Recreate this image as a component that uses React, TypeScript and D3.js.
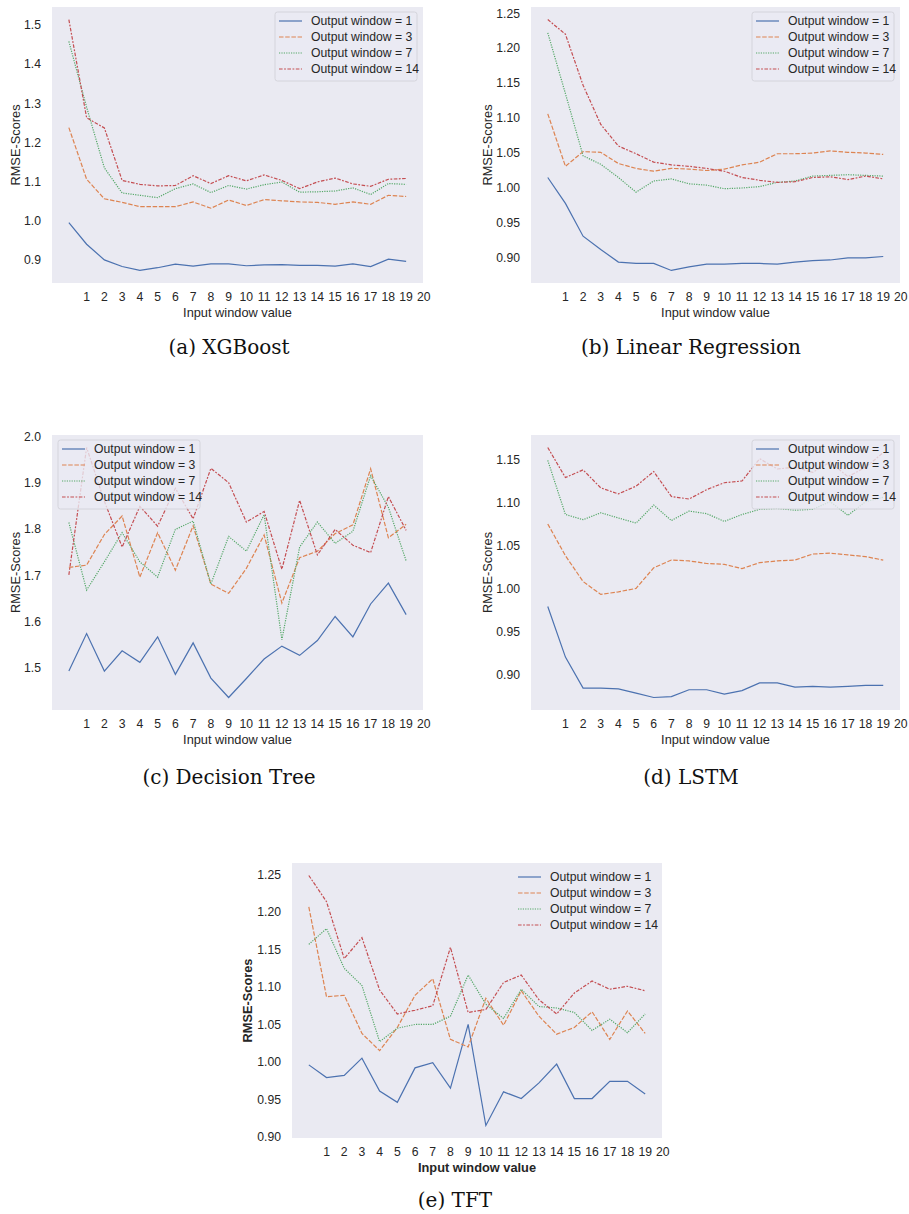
import React, { useEffect, useRef } from 'react';
import * as d3 from 'd3';

// input window index on the x axis (points) and the tick labels shown
const inputWindows = [0, 1, 2, 3, 4, 5, 6, 7, 8, 9, 10, 11, 12, 13, 14, 15, 16, 17, 18, 19];
const xTickValues = [1, 2, 3, 4, 5, 6, 7, 8, 9, 10, 11, 12, 13, 14, 15, 16, 17, 18, 19, 20];
const seriesLabels = ['Output window = 1', 'Output window = 3', 'Output window = 7', 'Output window = 14'];

// (a) XGBoost
const xgbW1 = [0.995, 0.94, 0.9, 0.883, 0.873, 0.88, 0.889, 0.884, 0.89, 0.89, 0.885, 0.887, 0.888, 0.886, 0.886, 0.884, 0.89, 0.883, 0.902, 0.896];
const xgbW3 = [1.238, 1.106, 1.056, 1.047, 1.036, 1.036, 1.036, 1.048, 1.032, 1.053, 1.039, 1.054, 1.051, 1.048, 1.047, 1.042, 1.048, 1.042, 1.065, 1.062];
const xgbW7 = [1.458, 1.29, 1.135, 1.071, 1.065, 1.059, 1.082, 1.094, 1.072, 1.09, 1.081, 1.092, 1.099, 1.073, 1.074, 1.076, 1.084, 1.067, 1.095, 1.093];
const xgbW14 = [1.514, 1.263, 1.237, 1.103, 1.093, 1.089, 1.09, 1.115, 1.095, 1.115, 1.102, 1.117, 1.103, 1.082, 1.099, 1.109, 1.094, 1.088, 1.106, 1.108];
const xgbTicks = [0.9, 1.0, 1.1, 1.2, 1.3, 1.4, 1.5];

// (b) Linear Regression
const lrW1 = [1.015, 0.978, 0.931, 0.912, 0.894, 0.892, 0.892, 0.882, 0.887, 0.891, 0.891, 0.892, 0.892, 0.891, 0.894, 0.896, 0.897, 0.9, 0.9, 0.902];
const lrW3 = [1.106, 1.031, 1.052, 1.051, 1.035, 1.028, 1.024, 1.028, 1.027, 1.025, 1.027, 1.033, 1.037, 1.049, 1.049, 1.05, 1.053, 1.051, 1.05, 1.048];
const lrW7 = [1.222, 1.135, 1.046, 1.034, 1.015, 0.994, 1.01, 1.013, 1.006, 1.004, 0.999, 1.0, 1.002, 1.008, 1.01, 1.017, 1.018, 1.019, 1.018, 1.017];
const lrW14 = [1.241, 1.22, 1.147, 1.091, 1.06, 1.049, 1.037, 1.033, 1.031, 1.028, 1.024, 1.015, 1.011, 1.008, 1.009, 1.015, 1.016, 1.012, 1.017, 1.013];
const lrTicks = [0.9, 0.95, 1.0, 1.05, 1.1, 1.15, 1.2, 1.25];

// (c) Decision Tree
const dtW1 = [1.493, 1.574, 1.493, 1.537, 1.512, 1.567, 1.486, 1.554, 1.478, 1.436, 1.477, 1.519, 1.547, 1.527, 1.559, 1.611, 1.567, 1.638, 1.683, 1.615];
const dtW3 = [1.717, 1.722, 1.788, 1.828, 1.696, 1.792, 1.711, 1.807, 1.681, 1.661, 1.715, 1.787, 1.64, 1.738, 1.752, 1.79, 1.809, 1.93, 1.781, 1.81];
const dtW7 = [1.814, 1.668, 1.729, 1.792, 1.729, 1.696, 1.799, 1.817, 1.681, 1.784, 1.752, 1.831, 1.561, 1.761, 1.815, 1.769, 1.795, 1.915, 1.847, 1.731];
const dtW14 = [1.701, 1.976, 1.86, 1.761, 1.849, 1.806, 1.888, 1.822, 1.931, 1.9, 1.815, 1.838, 1.713, 1.862, 1.744, 1.799, 1.765, 1.749, 1.87, 1.797];
const dtTicks = [1.5, 1.6, 1.7, 1.8, 1.9, 2.0];

// (d) LSTM
const lstmW1 = [0.979, 0.92, 0.884, 0.884, 0.883, 0.878, 0.873, 0.874, 0.882, 0.882, 0.877, 0.881, 0.89, 0.89, 0.885, 0.886, 0.885, 0.886, 0.887, 0.887];
const lstmW3 = [1.075, 1.038, 1.008, 0.993, 0.996, 1.0, 1.024, 1.033, 1.032, 1.029, 1.028, 1.023, 1.03, 1.032, 1.033, 1.04, 1.041, 1.039, 1.037, 1.033];
const lstmW7 = [1.149, 1.086, 1.08, 1.088, 1.082, 1.076, 1.097, 1.079, 1.09, 1.087, 1.078, 1.086, 1.092, 1.093, 1.091, 1.092, 1.101, 1.085, 1.101, 1.106];
const lstmW14 = [1.164, 1.129, 1.138, 1.117, 1.11, 1.119, 1.136, 1.107, 1.104, 1.115, 1.123, 1.125, 1.151, 1.139, 1.141, 1.135, 1.147, 1.13, 1.141, 1.158];
const lstmTicks = [0.9, 0.95, 1.0, 1.05, 1.1, 1.15];

// (e) TFT
const tftW1 = [0.996, 0.979, 0.982, 1.005, 0.961, 0.946, 0.992, 0.999, 0.965, 1.05, 0.915, 0.96, 0.951, 0.972, 0.997, 0.951, 0.951, 0.974, 0.974, 0.957];
const tftW3 = [1.207, 1.087, 1.089, 1.038, 1.015, 1.046, 1.089, 1.111, 1.03, 1.02, 1.085, 1.049, 1.095, 1.061, 1.037, 1.046, 1.067, 1.03, 1.068, 1.038];
const tftW7 = [1.157, 1.178, 1.125, 1.102, 1.027, 1.045, 1.05, 1.05, 1.061, 1.116, 1.077, 1.058, 1.097, 1.074, 1.072, 1.066, 1.042, 1.057, 1.039, 1.064];
const tftW14 = [1.249, 1.214, 1.138, 1.166, 1.096, 1.064, 1.069, 1.075, 1.153, 1.066, 1.07, 1.106, 1.116, 1.083, 1.064, 1.092, 1.108, 1.097, 1.101, 1.095];
const tftTicks = [0.9, 0.95, 1.0, 1.05, 1.1, 1.15, 1.2, 1.25];

const colors = ['#4C72B0', '#DD8452', '#55A868', '#C44E52'];
const dashes = ['none', '4.5,1.7', '1.2,1.2', '3.6,1.5,1.8,1.5'];

const SANS = "'Liberation Sans', Arial, sans-serif";
const SERIF = "'DejaVu Serif', serif";

const panels = [
  { caption: '(a) XGBoost', series: [xgbW1, xgbW3, xgbW7, xgbW14], ticks: xgbTicks, fmt: '.1f',
    x: 52, y: 7, w: 371, h: 276, legend: 'right', frame: true, bold: false, ylabDx: -36, capX: 229, capY: 354 },
  { caption: '(b) Linear Regression', series: [lrW1, lrW3, lrW7, lrW14], ticks: lrTicks, fmt: '.2f',
    x: 531, y: 7, w: 369, h: 276, legend: 'right', frame: true, bold: false, ylabDx: -43, capX: 691, capY: 354 },
  { caption: '(c) Decision Tree', series: [dtW1, dtW3, dtW7, dtW14], ticks: dtTicks, fmt: '.1f',
    x: 52, y: 435, w: 371, h: 275, legend: 'left', frame: true, bold: false, ylabDx: -36, capX: 229, capY: 784 },
  { caption: '(d) LSTM', series: [lstmW1, lstmW3, lstmW7, lstmW14], ticks: lstmTicks, fmt: '.2f',
    x: 531, y: 435, w: 369, h: 275, legend: 'right', frame: true, bold: false, ylabDx: -43, capX: 691, capY: 784 },
  { caption: '(e) TFT', series: [tftW1, tftW3, tftW7, tftW14], ticks: tftTicks, fmt: '.2f',
    x: 292, y: 863, w: 370, h: 275, legend: 'right', frame: false, bold: true, ylabDx: -44, capX: 455, capY: 1207 },
];

const App = () => {
  const svgRef = useRef(null);

  useEffect(() => {
    const svg = d3.select(svgRef.current);
    svg.selectAll('*').remove();

    panels.forEach((p) => {
      const g = svg.append('g');

      const x = d3.scaleLinear().domain([-0.95, 19.95]).range([p.x, p.x + p.w]);
      const all = p.series.flat();
      const [lo, hi] = d3.extent(all);
      const pad = (hi - lo) * 0.05;
      const y = d3.scaleLinear().domain([lo - pad, hi + pad]).range([p.y + p.h, p.y]);

      g.append('rect')
        .attr('x', p.x).attr('y', p.y)
        .attr('width', p.w).attr('height', p.h)
        .attr('fill', '#EAEAF2');

      // y tick labels
      g.selectAll('.ytick')
        .data(p.ticks)
        .join('text')
        .attr('x', p.x - 11)
        .attr('y', (d) => y(d))
        .attr('dy', '0.35em')
        .attr('text-anchor', 'end')
        .attr('font-family', SANS)
        .attr('font-size', 12.2)
        .attr('fill', '#262626')
        .text((d) => d3.format(p.fmt)(d));

      // x tick labels
      g.selectAll('.xtick')
        .data(xTickValues)
        .join('text')
        .attr('x', (d) => x(d))
        .attr('y', p.y + p.h + 18)
        .attr('text-anchor', 'middle')
        .attr('font-family', SANS)
        .attr('font-size', 12.2)
        .attr('fill', '#262626')
        .text((d) => d);

      g.append('text')
        .attr('x', (p.x * 2 + p.w) / 2)
        .attr('y', p.y + p.h + 34)
        .attr('text-anchor', 'middle')
        .attr('font-family', SANS)
        .attr('font-size', 12.8)
        .attr('font-weight', p.bold ? 'bold' : 'normal')
        .attr('fill', '#262626')
        .text('Input window value');

      g.append('text')
        .attr('transform', `translate(${p.x + p.ylabDx},${p.y + p.h / 2}) rotate(-90)`)
        .attr('dy', '0.35em')
        .attr('text-anchor', 'middle')
        .attr('font-family', SANS)
        .attr('font-size', 12.8)
        .attr('font-weight', p.bold ? 'bold' : 'normal')
        .attr('fill', '#262626')
        .text('RMSE-Scores');

      const line = d3.line()
        .x((d, i) => x(inputWindows[i]))
        .y((d) => y(d));

      g.selectAll('.series')
        .data(p.series)
        .join('path')
        .attr('d', (d) => line(d))
        .attr('fill', 'none')
        .attr('stroke', (d, i) => colors[i])
        .attr('stroke-width', 1.2)
        .attr('stroke-dasharray', (d, i) => dashes[i]);

      // legend
      const lw = 142, lh = 69;
      const lx = p.legend === 'right' ? p.x + p.w - 6 - lw : p.x + 6;
      const ly = p.y + 5;
      const leg = g.append('g').attr('transform', `translate(${lx},${ly})`);
      if (p.frame) {
        leg.append('rect')
          .attr('width', lw).attr('height', lh)
          .attr('rx', 2.5)
          .attr('fill', '#EAEAF2').attr('fill-opacity', 0.8)
          .attr('stroke', '#cfcfd6').attr('stroke-width', 0.8);
      }
      const rows = leg.selectAll('.row')
        .data(seriesLabels)
        .join('g')
        .attr('transform', (d, i) => `translate(0,${9 + i * 16})`);
      rows.append('line')
        .attr('x1', 4).attr('x2', 27)
        .attr('stroke', (d, i) => colors[i])
        .attr('stroke-width', 1.2)
        .attr('stroke-dasharray', (d, i) => dashes[i]);
      rows.append('text')
        .attr('x', 36)
        .attr('dy', '0.35em')
        .attr('font-family', SANS)
        .attr('font-size', 12.2)
        .attr('fill', '#262626')
        .text((d) => d);

      g.append('text')
        .attr('x', p.capX)
        .attr('y', p.capY)
        .attr('text-anchor', 'middle')
        .attr('font-family', SERIF)
        .attr('font-size', 20)
        .attr('fill', '#111')
        .text(p.caption);
    });
  }, []);

  return (
    <svg
      ref={svgRef}
      width={909}
      height={1214}
      style={{ position: 'absolute', left: 0, top: 0, background: '#fff' }}
    ></svg>
  );
};

export default App;
